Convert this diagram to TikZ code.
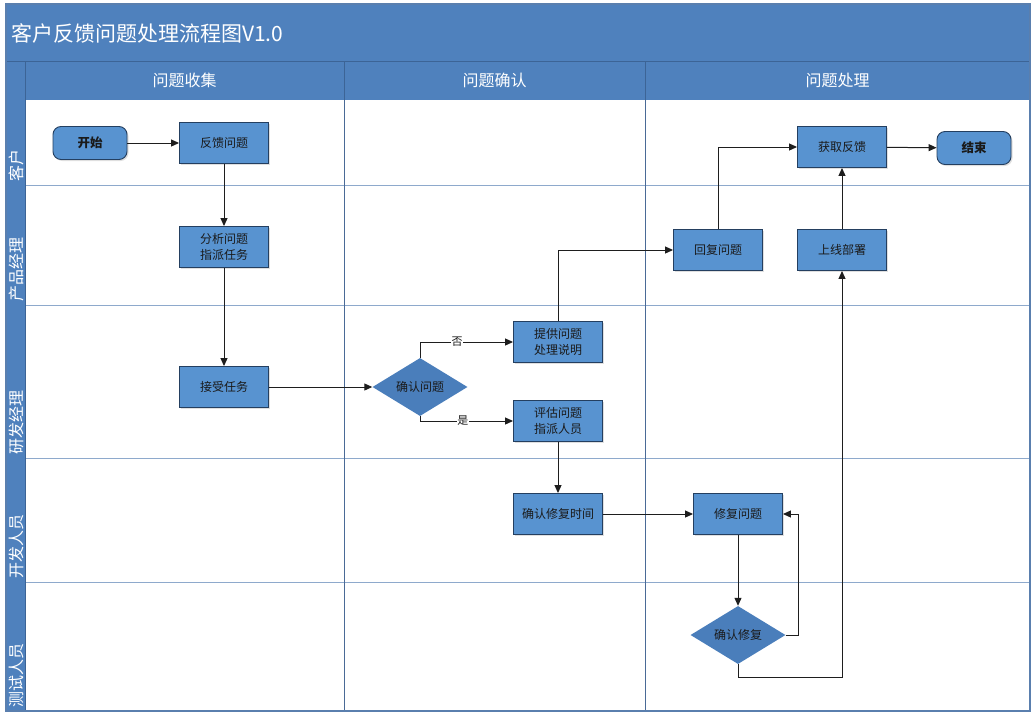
\documentclass[tikz,border=0pt]{standalone}
\usepackage{fontspec}
\setmainfont{Noto Sans CJK SC}
\usetikzlibrary{arrows.meta,shapes.geometric,shadows}
\definecolor{hdr}{HTML}{4F81BD}
\definecolor{hdrline}{HTML}{3C6496}
\definecolor{boxfill}{HTML}{5893D0}
\definecolor{diafill}{HTML}{4A7EBB}
\definecolor{boxline}{HTML}{243F60}
\definecolor{laneline}{HTML}{8EA9CC}
\definecolor{colline}{HTML}{4A6A96}
\definecolor{framec}{HTML}{5A7FAE}
\definecolor{txt}{HTML}{1A1A1A}
\definecolor{arrc}{HTML}{1E1E1E}
\begin{document}
\begin{tikzpicture}[x=1pt,y=-1pt,
  box/.style={draw=boxline,line width=0.9pt,fill=boxfill,minimum width=89pt,minimum height=41pt,inner sep=1pt,align=center,text=txt,font=\fontsize{12}{16}\selectfont,drop shadow={shadow xshift=1.5pt,shadow yshift=-1.5pt,opacity=0.25}},
  term/.style={draw=boxline,line width=0.9pt,fill=boxfill,rounded corners=8pt,minimum width=74pt,minimum height=33pt,inner sep=1pt,text=txt,font=\fontsize{12.5}{15}\selectfont\bfseries,drop shadow={shadow xshift=1.5pt,shadow yshift=-1.5pt,opacity=0.25}},
  dia/.style={diamond,fill=diafill,aspect=1.6,minimum width=95pt,minimum height=58pt,inner sep=0pt,text=txt,font=\fontsize{12}{15}\selectfont},
  arr/.style={draw=arrc,line width=1pt,-{Triangle[length=8pt,width=7pt]}},
  lbl/.style={fill=white,inner sep=0.6pt,text=txt,font=\fontsize{11}{13}\selectfont},
  colhead/.style={text=white,font=\fontsize{16}{19}\selectfont},
  lanelab/.style={text=white,rotate=90,anchor=west,inner sep=0pt,font=\fontsize{16}{19}\selectfont}]
\useasboundingbox (0,0) rectangle (1036,718);
\fill[white] (0,0) rectangle (1036,718);
% header areas
\fill[hdr] (6,4) rectangle (1030,100);
\fill[hdr] (6,100) rectangle (25,711);
\draw[hdrline,line width=1pt] (6,61) -- (1030,61);
% lane lines
\foreach \yy in {185,305,458,582} \draw[laneline,line width=1pt] (25,\yy) -- (1030,\yy);
% column lines
\draw[hdrline,line width=1pt] (25,61) -- (25,711);
\foreach \xx in {344,645} {\draw[hdrline,line width=1pt] (\xx,61) -- (\xx,100); \draw[colline,line width=1pt] (\xx,100) -- (\xx,711);}
% frame
\draw[framec,line width=1.3pt] (6,4) rectangle (1030,711);
% title & headers
\node[anchor=west,text=white,inner sep=0pt,font=\fontsize{21}{24}\selectfont] (title) at (11,33) {客户反馈问题处理流程图V1.0};
\node[colhead] (h1) at (184.5,80) {问题收集};
\node[colhead] (h2) at (494.5,80) {问题确认};
\node[colhead] (h3) at (837.5,80) {问题处理};
% lane labels
\node[lanelab] (l1) at (16,182) {客户};
\node[lanelab] (l2) at (16,302) {产品经理};
\node[lanelab] (l3) at (16,455) {研发经理};
\node[lanelab] (l4) at (16,579) {开发人员};
\node[lanelab] (l5) at (16,708) {测试人员};
% nodes
\node[term] (start) at (90,143) {开始};
\node[box] (fk) at (224,143) {反馈问题};
\node[box] (fx) at (224,247) {分析问题\\指派任务};
\node[box] (js) at (224,387) {接受任务};
\node[dia] (qr) at (420,387) {确认问题};
\node[box] (tg) at (558,342) {提供问题\\处理说明};
\node[box] (pg) at (558,421) {评估问题\\指派人员};
\node[box] (qx) at (558,514) {确认修复时间};
\node[box] (hf) at (718,250) {回复问题};
\node[box] (hq) at (842,147) {获取反馈};
\node[term] (end) at (974,148) {结束};
\node[box] (sx) at (842,250) {上线部署};
\node[box] (xf) at (738,514) {修复问题};
\node[dia] (qf) at (738,635) {确认修复};
% connectors
\draw[arr] (start) -- (fk);
\draw[arr] (fk) -- (fx);
\draw[arr] (fx) -- (js);
\draw[arr] (js) -- (qr.west);
\draw[arr] (qr.north) |- node[lbl,pos=0.7] {否} (tg.west);
\draw[arr] (qr.south) |- node[lbl,pos=0.73] {是} (pg.west);
\draw[arr] (tg.north) |- (hf.west);
\draw[arr] (hf.north) |- (hq.west);
\draw[arr] (hq) -- (end);
\draw[arr] (sx) -- (hq);
\draw[arr] (pg) -- (qx);
\draw[arr] (qx) -- (xf);
\draw[arr] (xf) -- (qf.north);
\coordinate (c1) at (798,635);
\coordinate (c2) at (738,677);
\draw[arr] (qf.east) -- (c1) |- (xf.east);
\draw[arr] (qf.south) -- (c2) -| (sx.south);
\end{tikzpicture}
\end{document}
